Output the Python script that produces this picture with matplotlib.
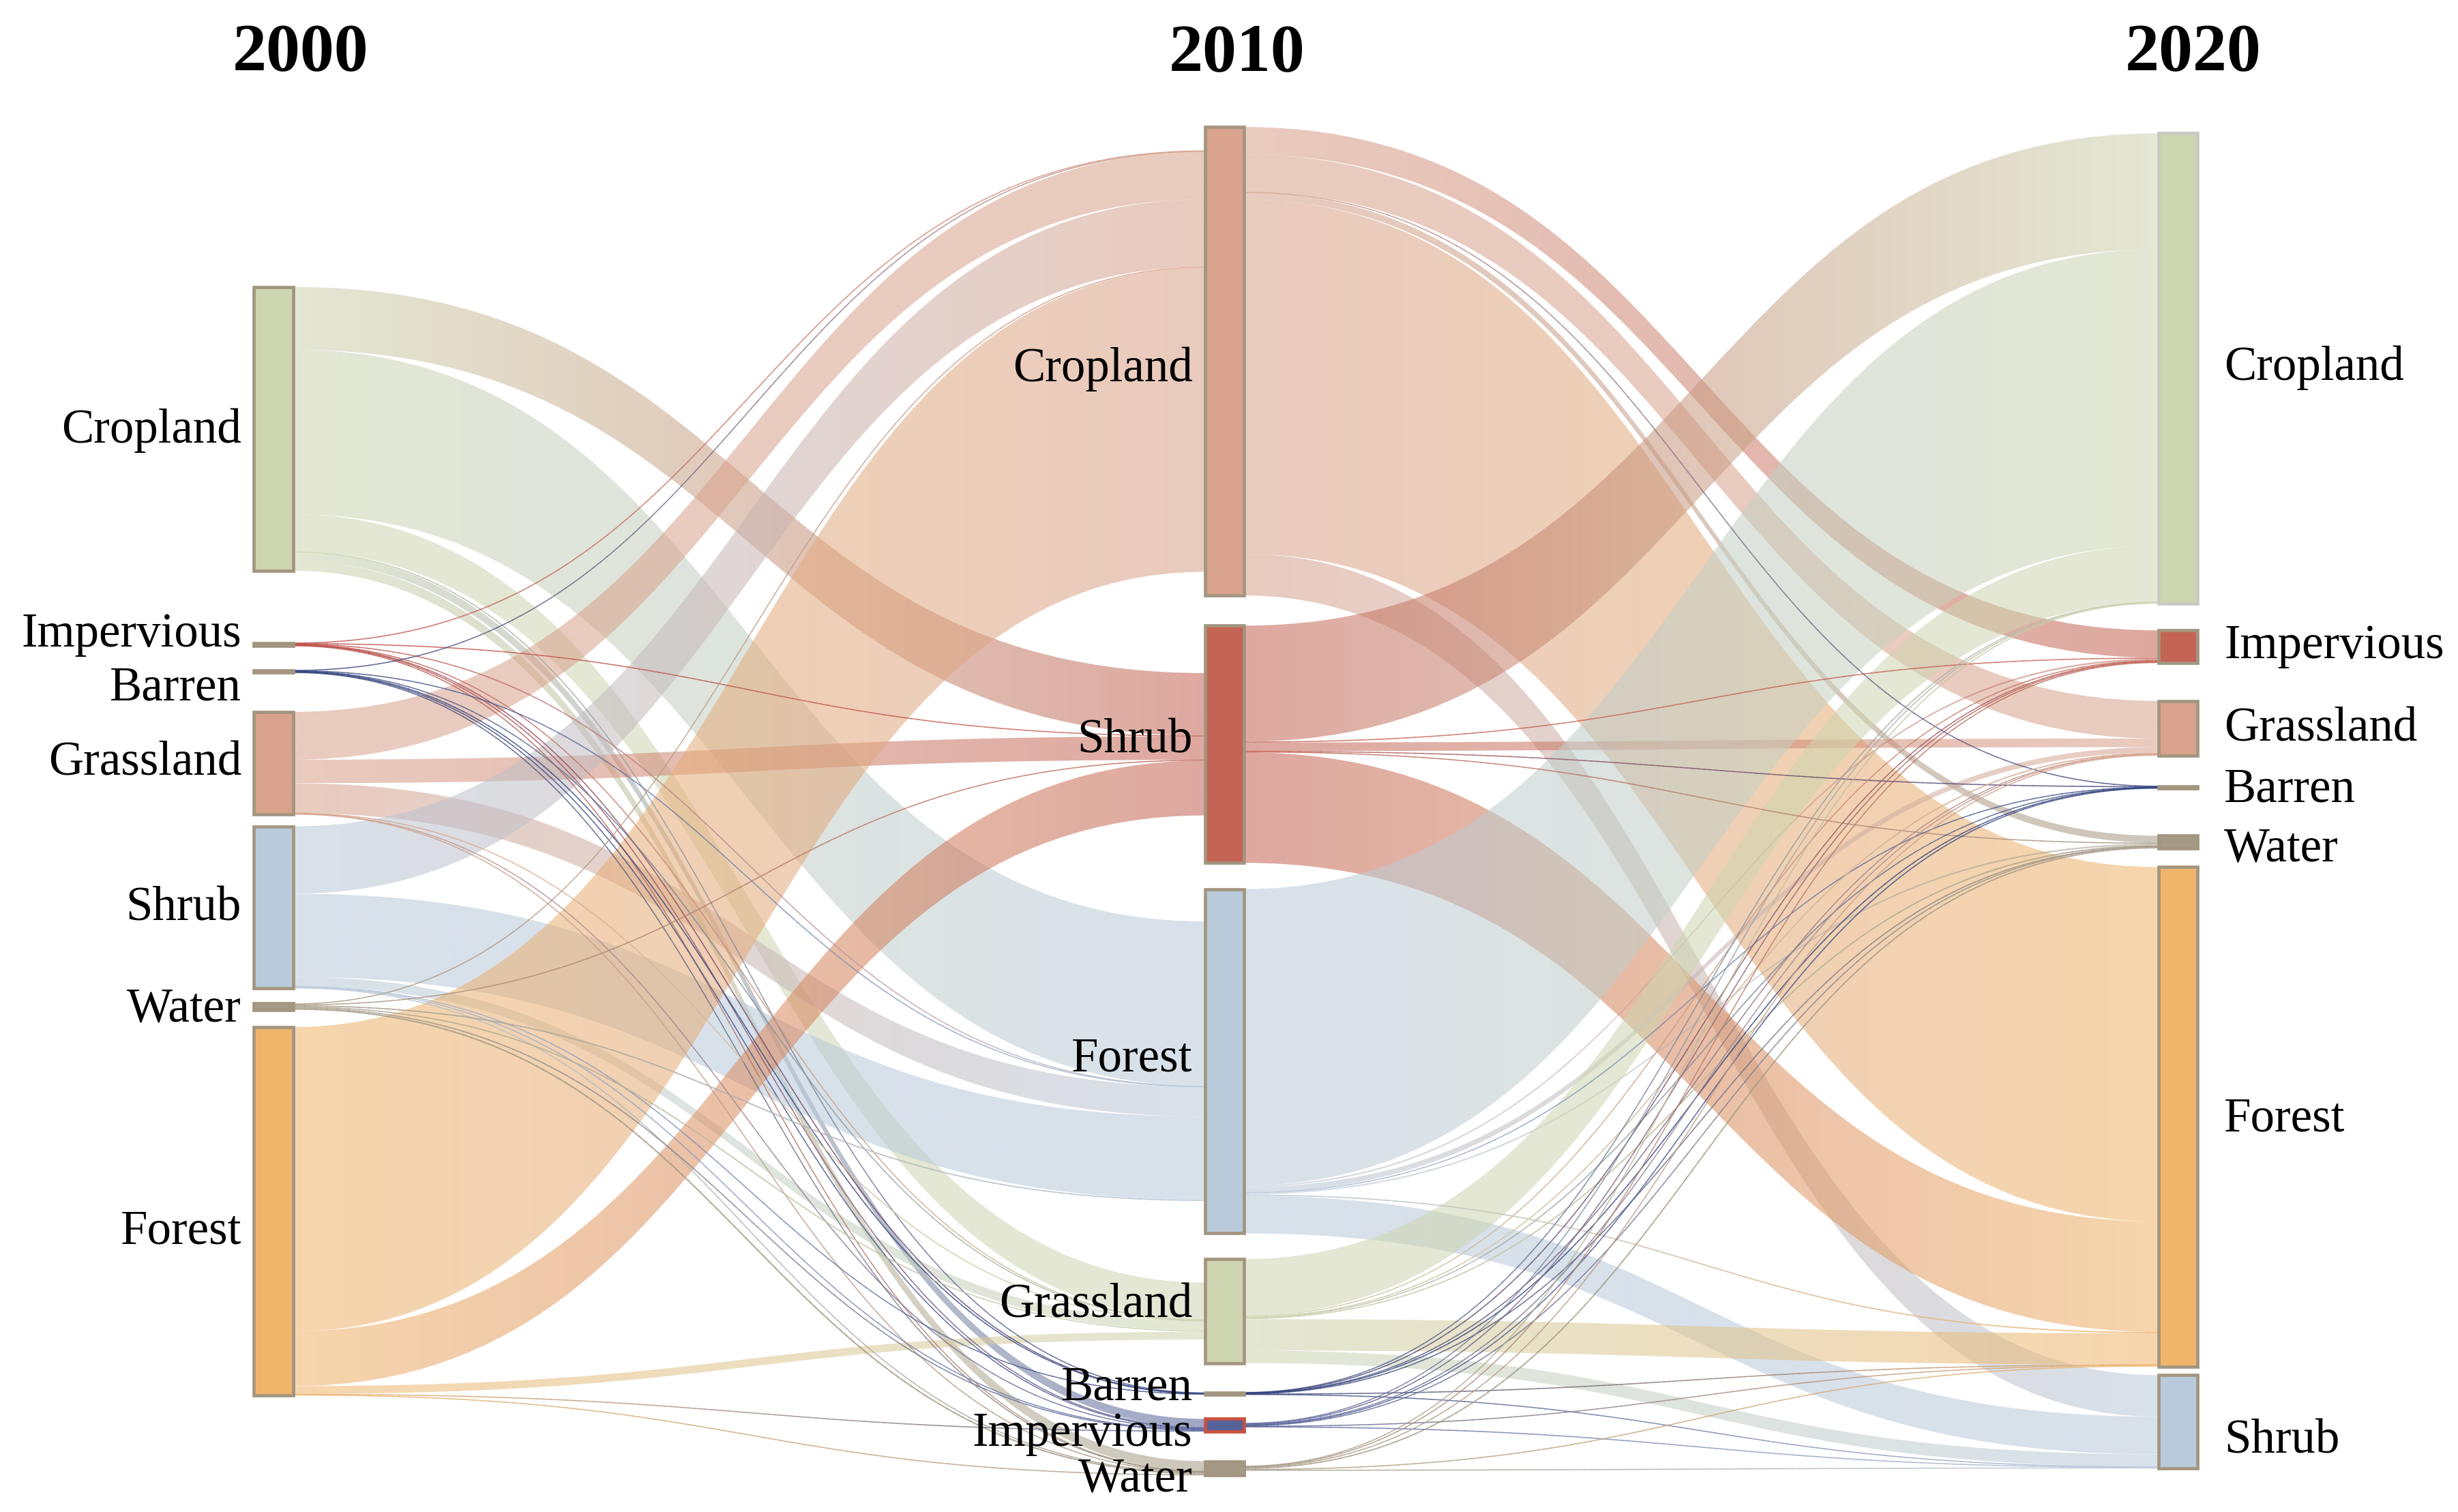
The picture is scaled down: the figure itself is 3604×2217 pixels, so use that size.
import numpy as np
import matplotlib
matplotlib.use("Agg")
import matplotlib.pyplot as plt
from matplotlib.path import Path
from matplotlib.patches import PathPatch, Rectangle
from matplotlib.collections import LineCollection
from matplotlib.colors import to_rgb

# ---------------- data ----------------
years = ["2000", "2010", "2020"]
nodes_2000 = ["Cropland", "Impervious", "Barren", "Grassland", "Shrub", "Water", "Forest"]
nodes_2010 = ["Cropland", "Shrub", "Forest", "Grassland", "Barren", "Impervious", "Water"]
nodes_2020 = ["Cropland", "Impervious", "Grassland", "Barren", "Water", "Forest", "Shrub"]

# rows: nodes_2000, cols: nodes_2010
flow_2000_2010 = [
    [0.0, 40.0, 105.0, 23.7, 0.5, 5.5, 6.3],     # Cropland
    [0.3, 0.3, 0.3, 0.3, 0.1, 0.4, 0.3],         # Impervious
    [0.2, 0.0, 0.2, 0.3, 0.2, 0.4, 0.2],         # Barren
    [30.5, 15.0, 19.0, 0.3, 0.0, 0.3, 0.2],      # Grassland
    [43.0, 0.0, 53.0, 6.0, 0.3, 0.5, 0.5],       # Shrub
    [0.6, 0.5, 0.8, 0.7, 0.0, 0.5, 0.9],         # Water
    [194.0, 35.0, 0.0, 5.0, 0.0, 0.4, 0.6],      # Forest
]
# rows: nodes_2010, cols: nodes_2020
flow_2010_2020 = [
    [0.0, 17.5, 24.0, 0.3, 4.5, 226.0, 26.5],    # Cropland
    [74.0, 0.5, 5.5, 0.3, 0.5, 70.5, 0.0],       # Shrub
    [189.0, 1.0, 3.5, 0.3, 1.0, 0.8, 24.0],      # Forest
    [36.0, 0.6, 0.8, 0.1, 0.8, 20.0, 8.0],       # Grassland
    [0.2, 0.2, 0.2, 0.2, 0.2, 0.2, 0.2],         # Barren
    [0.3, 0.5, 0.4, 0.3, 0.3, 0.4, 0.3],         # Impervious
    [0.3, 0.4, 0.4, 0.0, 0.8, 0.6, 0.4],         # Water
]

# ---------------- styles ----------------
OLIVE, SALMON, RED, BLUE = "#ced5b1", "#d9a28c", "#c46455", "#b9cadb"
NAVY, GREYB, ORANGE, IMPBLUE = "#34437f", "#a59a86", "#f0b56b", "#56629a"
colors = [
    [OLIVE, "#c0504a", NAVY, SALMON, BLUE, GREYB, ORANGE],
    [SALMON, RED, BLUE, OLIVE, NAVY, IMPBLUE, GREYB],
    [OLIVE, RED, SALMON, NAVY, GREYB, ORANGE, BLUE],
]
EDGE = "#a29680"
edges = [
    [EDGE] * 7,
    [EDGE, EDGE, EDGE, EDGE, EDGE, "#c9513f", EDGE],
    ["#c9c9c4", EDGE, EDGE, EDGE, EDGE, EDGE, EDGE],
]

W, H = 3605, 2217
S = W / 1568.0
col_x = [162, 768.5, 1376.5]
node_w = 25
col_top = [183, 81, 85]
col_gaps = [[46, 15.5, 25, 7.7, 9.7, 11],
            [19.2, 16.7, 16.4, 18.7, 15.5, 19],
            [17.2, 24.3, 19.5, 30.2, 11.9, 5.5]]
label_dy = [[-1.5, -9, 8, -2.5, -2, -1, 10.5],
            [2.6, -5, -4, -6, -6, 3, 4.5],
            [-3, -3, -2, -1, 2, -1, 10]]
title_x = [191.6, 789, 1398.5]
LABEL_FS, TITLE_FS = 51, 72
FONT = "Liberation Serif"
BAND_ALPHA, THIN_ALPHA = 0.56, 0.8
NODE_LW = 3.4

fig = plt.figure(figsize=(W / 100, H / 100), dpi=100)
ax = fig.add_axes([0, 0, 1, 1])
ax.axis("off")

F = [np.array(flow_2000_2010), np.array(flow_2010_2020)]
heights = [F[0].sum(1), np.maximum(F[0].sum(0), F[1].sum(1)), F[1].sum(0)]
tops = []
for c in range(3):
    t = [col_top[c]]
    for i in range(1, len(heights[c])):
        t.append(t[-1] + heights[c][i - 1] + col_gaps[c][i - 1])
    tops.append(np.array(t))


def bez(p0, p1, p2, p3, tt):
    return ((1 - tt) ** 3) * p0 + 3 * ((1 - tt) ** 2) * tt * p1 + 3 * (1 - tt) * tt ** 2 * p2 + tt ** 3 * p3


def draw_band(x0, x1, y0, y1, v, c0, c1):
    xm = (x0 + x1) / 2
    verts = [(x0, y0), (xm, y0), (xm, y1), (x1, y1), (x1, y1 + v),
             (xm, y1 + v), (xm, y0 + v), (x0, y0 + v), (x0, y0)]
    codes = [Path.MOVETO, Path.CURVE4, Path.CURVE4, Path.CURVE4, Path.LINETO,
             Path.CURVE4, Path.CURVE4, Path.CURVE4, Path.CLOSEPOLY]
    patch = PathPatch(Path(verts, codes), facecolor="none", edgecolor="none",
                      transform=ax.transData)
    ax.add_patch(patch)
    n = 256
    t = np.linspace(0, 1, n)[None, :, None]
    rgb = (1 - t) * np.array(c0)[None, None, :] + t * np.array(c1)[None, None, :]
    img = np.concatenate([rgb, np.full((1, n, 1), BAND_ALPHA)], axis=2)
    ymin, ymax = min(y0, y1), max(y0, y1) + v
    im = ax.imshow(img, extent=(x0, x1, ymax, ymin), aspect="auto",
                   interpolation="bilinear", zorder=1)
    im.set_clip_path(patch)


def draw_thin(x0, x1, y0, y1, v, c0, c1):
    xm = (x0 + x1) / 2
    tt = np.linspace(0, 1, 120)
    bx = bez(x0, xm, xm, x1, tt)
    by = bez(y0, y0, y1, y1, tt)
    pts = np.column_stack([bx, by])
    segs = np.stack([pts[:-1], pts[1:]], axis=1)
    u = ((bx[:-1] + bx[1:]) / 2 - x0) / (x1 - x0)
    cols = [(*((1 - a) * np.array(c0) + a * np.array(c1)), THIN_ALPHA) for a in u]
    lw_px = max(v * S, 1.6)
    lc = LineCollection(segs, colors=cols, linewidths=lw_px * 72 / 100,
                        capstyle="round", zorder=2)
    ax.add_collection(lc)


for k in range(2):
    M = F[k]
    ns, nt = M.shape
    out_sum = M.sum(1)
    in_sum = M.sum(0)
    src_off = [tops[k][i] + (heights[k][i] - out_sum[i]) / 2 for i in range(ns)]
    tgt_off = [tops[k + 1][j] + (heights[k + 1][j] - in_sum[j]) / 2 for j in range(nt)]
    src_pos = np.zeros((ns, nt))
    tgt_pos = np.zeros((ns, nt))
    for i in range(ns):
        y = src_off[i]
        for j in range(nt):
            src_pos[i, j] = y
            y += M[i, j]
    for j in range(nt):
        y = tgt_off[j]
        for i in range(ns):
            tgt_pos[i, j] = y
            y += M[i, j]
    x0 = col_x[k] + node_w
    x1 = col_x[k + 1]
    thin = []
    for i in range(ns):
        for j in range(nt):
            v = M[i, j]
            if v <= 0:
                continue
            c0 = to_rgb(colors[k][i])
            c1 = to_rgb(colors[k + 1][j])
            if v >= 1.0:
                draw_band(x0, x1, src_pos[i, j], tgt_pos[i, j], v, c0, c1)
            else:
                thin.append((x0, x1, src_pos[i, j] + v / 2, tgt_pos[i, j] + v / 2, v, c0, c1))
    for args in thin:
        draw_thin(*args)

names = [nodes_2000, nodes_2010, nodes_2020]
cap_half = 0.66 * (LABEL_FS * 100 / 72 / S) / 2
for c in range(3):
    for i, name in enumerate(names[c]):
        ax.add_patch(Rectangle((col_x[c], tops[c][i]), node_w, heights[c][i],
                               facecolor=colors[c][i], edgecolor=edges[c][i],
                               linewidth=NODE_LW, zorder=3))
        yc = tops[c][i] + heights[c][i] / 2 + label_dy[c][i]
        if c < 2:
            xt, ha = col_x[c] - 8, "right"
        else:
            xt, ha = col_x[c] + node_w + 17, "left"
        ax.text(xt, yc + cap_half, name, ha=ha, va="baseline", fontsize=LABEL_FS,
                family=FONT, color="black", zorder=5)

digit_half = 0.676 * (TITLE_FS * 100 / 72 / S) / 2
for c in range(3):
    ax.text(title_x[c], 30 + digit_half, years[c], ha="center", va="baseline",
            fontsize=TITLE_FS, fontweight="bold", family=FONT, color="black")

ax.set_xlim(0, 1568)
ax.set_ylim(H / S, 0)
fig.savefig("out.png", dpi=100, facecolor="white")
